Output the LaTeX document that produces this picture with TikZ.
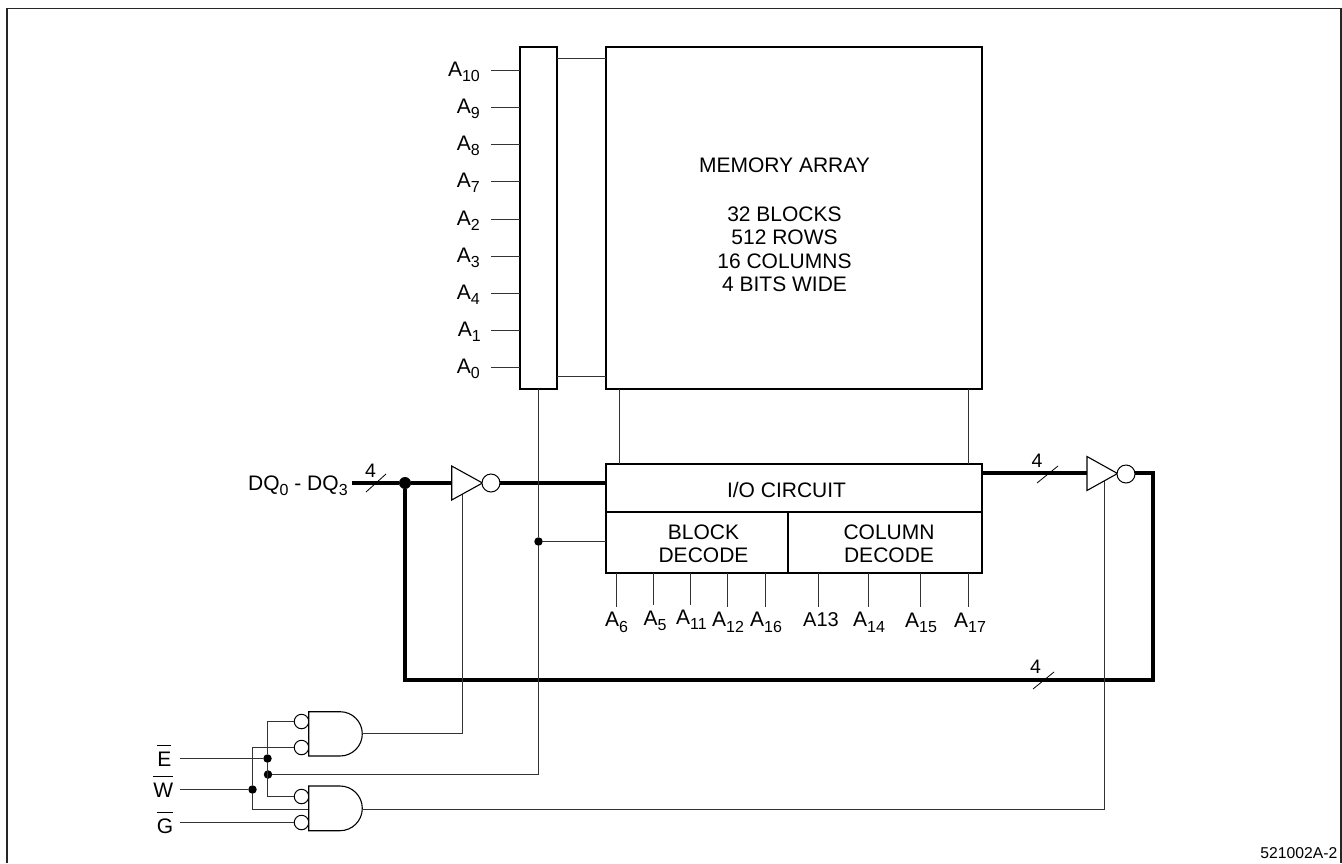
\documentclass[tikz,border=0pt]{standalone}
\usepackage{fontspec}
\setmainfont{Liberation Sans}
\usetikzlibrary{calc}
\newsavebox{\ovbox}
\newcommand{\ov}[1]{\sbox{\ovbox}{#1}\rlap{\raisebox{20.5pt}{\rule{\wd\ovbox}{0.9pt}}}\usebox{\ovbox}}
\newcommand{\sbs}[1]{\raisebox{-5.5pt}{\fontsize{16}{16}\selectfont #1}}
\tikzset{
  x=1pt,y=-1pt,
  thinw/.style={line width=1.1pt,draw=black!80},
  boxw/.style={draw=black,line width=1.8pt,fill=white,inner sep=0pt,outer sep=0pt,align=center},
  busw/.style={line width=4.6pt,draw=black},
  lab/.style={inner sep=0pt,font=\fontsize{21}{23}\selectfont},
  dot/.style={circle,fill=black,inner sep=0pt,minimum size=#1},
  dot/.default=8pt,
  bub/.style={circle,draw=black,line width=1pt,fill=white,inner sep=0pt,minimum size=#1},
  tick/.style={line width=0.8pt,draw=black},
  gatew/.style={draw=black,line width=1.1pt,fill=white},
  framel/.style={line width=1.2pt,draw=black!85},
}
\begin{document}
\begin{tikzpicture}
\useasboundingbox (0,0) rectangle (1342,863);
\draw[framel] (7,863) -- (7,8.5) -- (1341,8.5) -- (1341,863);

% boxes
\node[boxw,minimum width=37.5pt,minimum height=342pt,anchor=north west] (addr) at (519.8,47) {};
\node[boxw,minimum width=376pt,minimum height=342pt,anchor=north west] (mem) at (606,47) {};
\node[lab,align=center,font=\fontsize{21}{23.6}\selectfont] (memt) at (784.5,225) {MEMORY ARRAY\\[25pt]32 BLOCKS\hspace{6pt}\\ 512 ROWS\\16 COLUMNS\\4 BITS WIDE};
\node[boxw,minimum width=376pt,minimum height=48pt,anchor=north west] (io) at (606,464) {};
\node[lab] (iot) at (786.5,490) {I/O CIRCUIT};
\node[boxw,minimum width=182pt,minimum height=61pt,anchor=north west] (blk) at (606,512) {};
\node[boxw,minimum width=194pt,minimum height=61pt,anchor=north west] (col) at (788,512) {};
\node[lab,align=center] (blkt) at (703.5,543.5) {BLOCK\\DECODE};
\node[lab,align=center] (colt) at (889,543.5) {COLUMN\\DECODE};

% address labels, left
\foreach \nm/\lbl/\yy/\xr in {a10/10/70.5/480, a9/9/107.5/480, a8/8/144.5/480, a7/7/181.5/480, a2/2/219.5/480, a3/3/256.5/480, a4/4/293.5/480, a1/1/330.5/481, a0/0/367.5/480}{
  \node[lab,anchor=base east] (l\nm) at (\xr,\yy+5.5) {A\sbs{\lbl}};
  \coordinate (e\nm) at (491,\yy);
  \draw[thinw] (e\nm) -- (e\nm -| addr.west);
}
% address to memory
\coordinate (am1) at (addr.east |- 0,58.5);
\coordinate (am2) at (addr.east |- 0,376.5);
\draw[thinw] (am1) -- (am1 -| mem.west);
\draw[thinw] (am2) -- (am2 -| mem.west);
% memory to I/O
\coordinate (mi1) at (619.5,389);
\coordinate (mi2) at (968.5,389);
\draw[thinw] (mi1) -- (mi1 |- io.north);
\draw[thinw] (mi2) -- (mi2 |- io.north);

% decode address lines
\foreach \nm/\lbl/\xx/\yy/\lx/\ly in {b6/6/616.5/607/605/626.5, b5/5/653.5/605/643.5/625, b11/11/690.5/605/676/624, b12/12/727.5/607/712/626.5, b16/16/765.5/607/750/626.5}{
  \coordinate (e\nm) at (\xx,\yy);
  \draw[thinw] (e\nm |- blk.south) -- (e\nm);
  \node[lab,anchor=base west] (l\nm) at (\lx,\ly) {A\sbs{\lbl}};
}
\foreach \nm/\lbl/\xx/\yy/\lx/\ly in {c14/14/868.5/607/853/626.5, c15/15/920.5/607/905/627, c17/17/968.5/607/954/627}{
  \coordinate (e\nm) at (\xx,\yy);
  \draw[thinw] (e\nm |- col.south) -- (e\nm);
  \node[lab,anchor=base west] (l\nm) at (\lx,\ly) {A\sbs{\lbl}};
}
\coordinate (ec13) at (818.5,607);
\draw[thinw] (ec13 |- col.south) -- (ec13);
\node[lab,anchor=base west,font=\fontsize{20}{23}\selectfont] (lc13) at (803,626) {A13};

% nodes for dots and bubbles on buses
\node[dot=12pt] (jbus) at (405,483) {};
\coordinate (busstart) at (352,483);
\coordinate (busR) at (1153,473);
\coordinate (busB) at (1153,680);
\node[lab,anchor=base west] (dq) at (248,490) {DQ\sbs{0} - DQ\sbs{3}};

% buses
\draw[busw] (busstart) -- (jbus) -- (452,483);
\draw[busw] (491,483) -- (io.west |- 0,483);
\draw[busw] (io.east |- 0,473) -- (1087,473);
\draw[busw,line join=miter] (1126,473) -- (busR) -- (busB) -- (busB -| jbus) -- (jbus);

% control verticals
\coordinate (ctlA) at (538.5,389);
\coordinate (gateL) at (462.5,733.5);
\coordinate (gateR) at (1104.5,809.5);
\node[dot=8.5pt] (jblk) at (538.5,541.5) {};
\node[dot=8.5pt] (jw2) at (268,774.5) {};
\draw[thinw] (ctlA) -- (jblk) -- (538.5,774.5) -- (jw2);
\draw[thinw] (jblk) -- (jblk -| blk.west);
\draw[thinw] (gateL) -- (462.5,494);
\draw[thinw] (gateR) -- (1104.5,481);

% buffers
\draw[gatew] (451.7,466) -- (482.5,483) -- (451.7,500) -- cycle;
\node[bub=18pt] (b1) at (491,483) {};
\draw[gatew] (1087,456.5) -- (1117.5,473.5) -- (1087,490.5) -- cycle;
\node[bub=18pt] (b2) at (1126,474) {};

% slashes and counts
\draw[tick] (366,492) -- (386,474);
\node[lab,font=\fontsize{19.5}{23}\selectfont] (n1) at (370.5,471) {4};
\draw[tick] (1037,483) -- (1058,466);
\node[lab,font=\fontsize{19.5}{23}\selectfont] (n2) at (1037,461) {4};
\draw[tick] (1033,689) -- (1054,672);
\node[lab,font=\fontsize{19.5}{23}\selectfont] (n3) at (1035.5,667) {4};

% logic inputs
\node[lab,anchor=base east] (le) at (171.5,766) {\ov{E}};
\node[lab,anchor=base east] (lw) at (173.5,797) {\ov{W}};
\node[lab,anchor=base east] (lg) at (173.5,833) {\ov{G}};
\coordinate (ee) at (180,758.5);
\coordinate (ew) at (180,789.5);
\coordinate (eg) at (180,822.5);
\node[dot=8.5pt] (je) at (267.5,758.5) {};
\node[dot=8.5pt] (jw) at (252.5,789.5) {};
\node[bub=14.5pt] (c1) at (301.5,721.5) {};
\node[bub=14.5pt] (c2) at (301.5,747.5) {};
\node[bub=14.5pt] (c3) at (301.5,796.5) {};
\node[bub=14.5pt] (c4) at (301.5,822.5) {};
\draw[thinw] (ee) -- (je);
\draw[thinw] (ew) -- (jw);
\draw[thinw] (eg) -- (c4);
\draw[thinw] (c1) -| (je) |- (c3);
\draw[thinw] (c2) -| (jw) |- (308.7,809.5);

% AND gates
\draw[gatew] (308.7,711.7) -- (340,711.7) arc[start angle=-90,end angle=90,x radius=22.3pt,y radius=-22.15pt] -- (308.7,756) -- cycle;
\draw[gatew] (308.7,786) -- (340,786) arc[start angle=-90,end angle=90,x radius=22.3pt,y radius=-22.35pt] -- (308.7,830.7) -- cycle;
\draw[thinw] (362.3,733.5) -- (gateL);
\draw[thinw] (362.3,809.5) -- (gateR);

\node[inner sep=0pt,anchor=base east,font=\fontsize{15.7}{17}\selectfont] (ref) at (1337.5,858) {521002A-2};
\end{tikzpicture}
\end{document}
